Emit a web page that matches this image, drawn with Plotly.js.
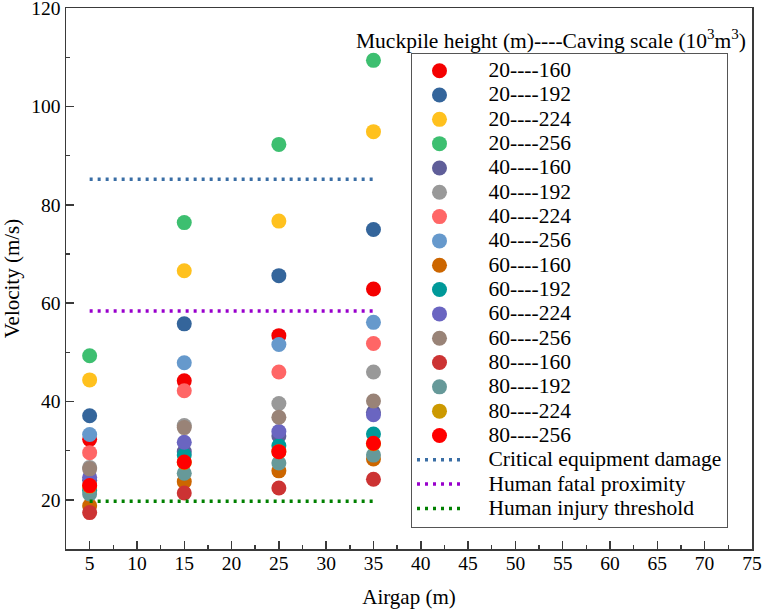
<!DOCTYPE html>
<html>
<head>
<meta charset="utf-8">
<script src="https://cdn.plot.ly/plotly-3.0.1.min.js"></script>
<style>html,body{margin:0;padding:0;background:#fff;}</style>
</head>
<body>
<div id="chart" style="width:762px;height:613px;"></div>
<script>
// Airgap positions (m)
const airgap = [5, 15, 25, 35];

// Series labels: muckpile height (m) ---- caving scale (10^3 m^3)
const seriesLabels = [
  '20----160', '20----192', '20----224', '20----256',
  '40----160', '40----192', '40----224', '40----256',
  '60----160', '60----192', '60----224', '60----256',
  '80----160', '80----192', '80----224', '80----256'
];

// Peak velocity (m/s) per series at each airgap
const v20_160 = [32.3, 44.2, 53.4, 62.9];
const v20_192 = [37.1, 55.8, 65.6, 75.0];
const v20_224 = [44.4, 66.6, 76.7, 94.9];
const v20_256 = [49.3, 76.4, 92.3, 109.4];
const v40_160 = [24.0, 29.8, 33.0, 37.8];
const v40_192 = [26.6, 35.1, 39.6, 46.0];
const v40_224 = [29.6, 42.2, 46.0, 51.8];
const v40_256 = [33.3, 47.9, 51.6, 56.1];
const v60_160 = [18.8, 23.7, 25.9, 28.3];
const v60_192 = [21.9, 29.1, 31.0, 33.4];
const v60_224 = [24.6, 31.7, 33.9, 37.3];
const v60_256 = [26.3, 34.7, 36.8, 40.1];
const v80_160 = [17.4, 21.4, 22.4, 24.2];
const v80_192 = [21.2, 25.4, 27.5, 29.1];
const v80_224 = [22.8, 27.6, 29.8, 31.4];
const v80_256 = [22.9, 27.7, 29.8, 31.5];

const seriesValues = [
  v20_160, v20_192, v20_224, v20_256,
  v40_160, v40_192, v40_224, v40_256,
  v60_160, v60_192, v60_224, v60_256,
  v80_160, v80_192, v80_224, v80_256
];

const seriesColors = [
  '#f40000', '#34659b', '#ffc11e', '#3dbf70',
  '#5f5e99', '#999999', '#ff6666', '#6699cc',
  '#cc6600', '#009999', '#6a65c1', '#998377',
  '#cc3333', '#669999', '#cc9900', '#ff0000'
];

// Threshold velocities (m/s)
const thresholdLabels = ['Critical equipment damage', 'Human fatal proximity', 'Human injury threshold'];
const criticalDamage = [85.2, 85.2, 85.2, 85.2];
const fatalProximity = [58.4, 58.4, 58.4, 58.4];
const injuryThreshold = [19.7, 19.7, 19.7, 19.7];
const thresholdValues = [criticalDamage, fatalProximity, injuryThreshold];
const thresholdColors = ['#3a6ea5', '#9900cc', '#008000'];

const fontFamily = 'Liberation Serif';
const axisColor = '#3a3a3a';
const legendText = s => '<span style="font-size:21.5px">\u00a0\u00a0\u00a0\u00a0' + s + '</span>';

const traces = [];
seriesLabels.forEach((label, i) => {
  traces.push({
    type: 'scatter',
    mode: 'markers',
    name: legendText(label),
    x: airgap,
    y: seriesValues[i],
    marker: {size: 15, color: seriesColors[i], line: {width: 0}}
  });
});
thresholdLabels.forEach((label, i) => {
  traces.push({
    type: 'scatter',
    mode: 'lines',
    name: legendText(label),
    x: airgap,
    y: thresholdValues[i],
    line: {color: thresholdColors[i], width: 3.5, dash: '3px,5px'}
  });
});

const layout = {
  width: 762,
  height: 613,
  margin: {l: 66, r: 10, t: 8, b: 64},
  paper_bgcolor: '#ffffff',
  plot_bgcolor: '#ffffff',
  font: {family: fontFamily, size: 19, color: '#000000'},
  showlegend: true,
  legend: {
    x: 0.5029, y: 0.9177, xanchor: 'left', yanchor: 'top',
    bordercolor: '#555555', borderwidth: 1,
    bgcolor: 'rgba(255,255,255,0)',
    font: {size: 16.4},
    itemwidth: 45,
    traceorder: 'normal'
  },
  xaxis: {
    range: [2.5, 75.01],
    tick0: 5, dtick: 5,
    ticks: 'inside', ticklen: 8, tickwidth: 1.5, tickcolor: axisColor,
    minor: {dtick: 2.5, ticks: 'inside', ticklen: 4, tickwidth: 1.5, tickcolor: axisColor, showgrid: false},
    showline: true, linecolor: axisColor, linewidth: 1.5, mirror: true,
    showgrid: false, zeroline: false,
    ticklabeloverflow: 'allow',
    ticklabelstandoff: -4,
    tickfont: {size: 19.5},
    title: {text: 'Airgap (m)', font: {size: 21}, standoff: 16}
  },
  yaxis: {
    range: [10, 120.05],
    tick0: 0, dtick: 20,
    ticks: 'inside', ticklen: 8, tickwidth: 1.5, tickcolor: axisColor,
    minor: {dtick: 10, ticks: 'inside', ticklen: 4, tickwidth: 1.5, tickcolor: axisColor, showgrid: false},
    showline: true, linecolor: axisColor, linewidth: 1.5, mirror: true,
    showgrid: false, zeroline: false,
    ticklabeloverflow: 'allow',
    tickfont: {size: 19.5},
    title: {text: 'Velocity (m/s)', font: {size: 21}, standoff: 10}
  },
  annotations: [{
    xref: 'paper', yref: 'paper',
    x: 0.707, y: 0.941,
    xanchor: 'center', yanchor: 'middle',
    showarrow: false,
    text: 'Muckpile height (m)----Caving scale (10<sup>3</sup>m<sup>3</sup>)',
    font: {size: 21.5}
  }]
};

Plotly.newPlot('chart', traces, layout, {displayModeBar: false, staticPlot: true});
</script>
</body>
</html>
